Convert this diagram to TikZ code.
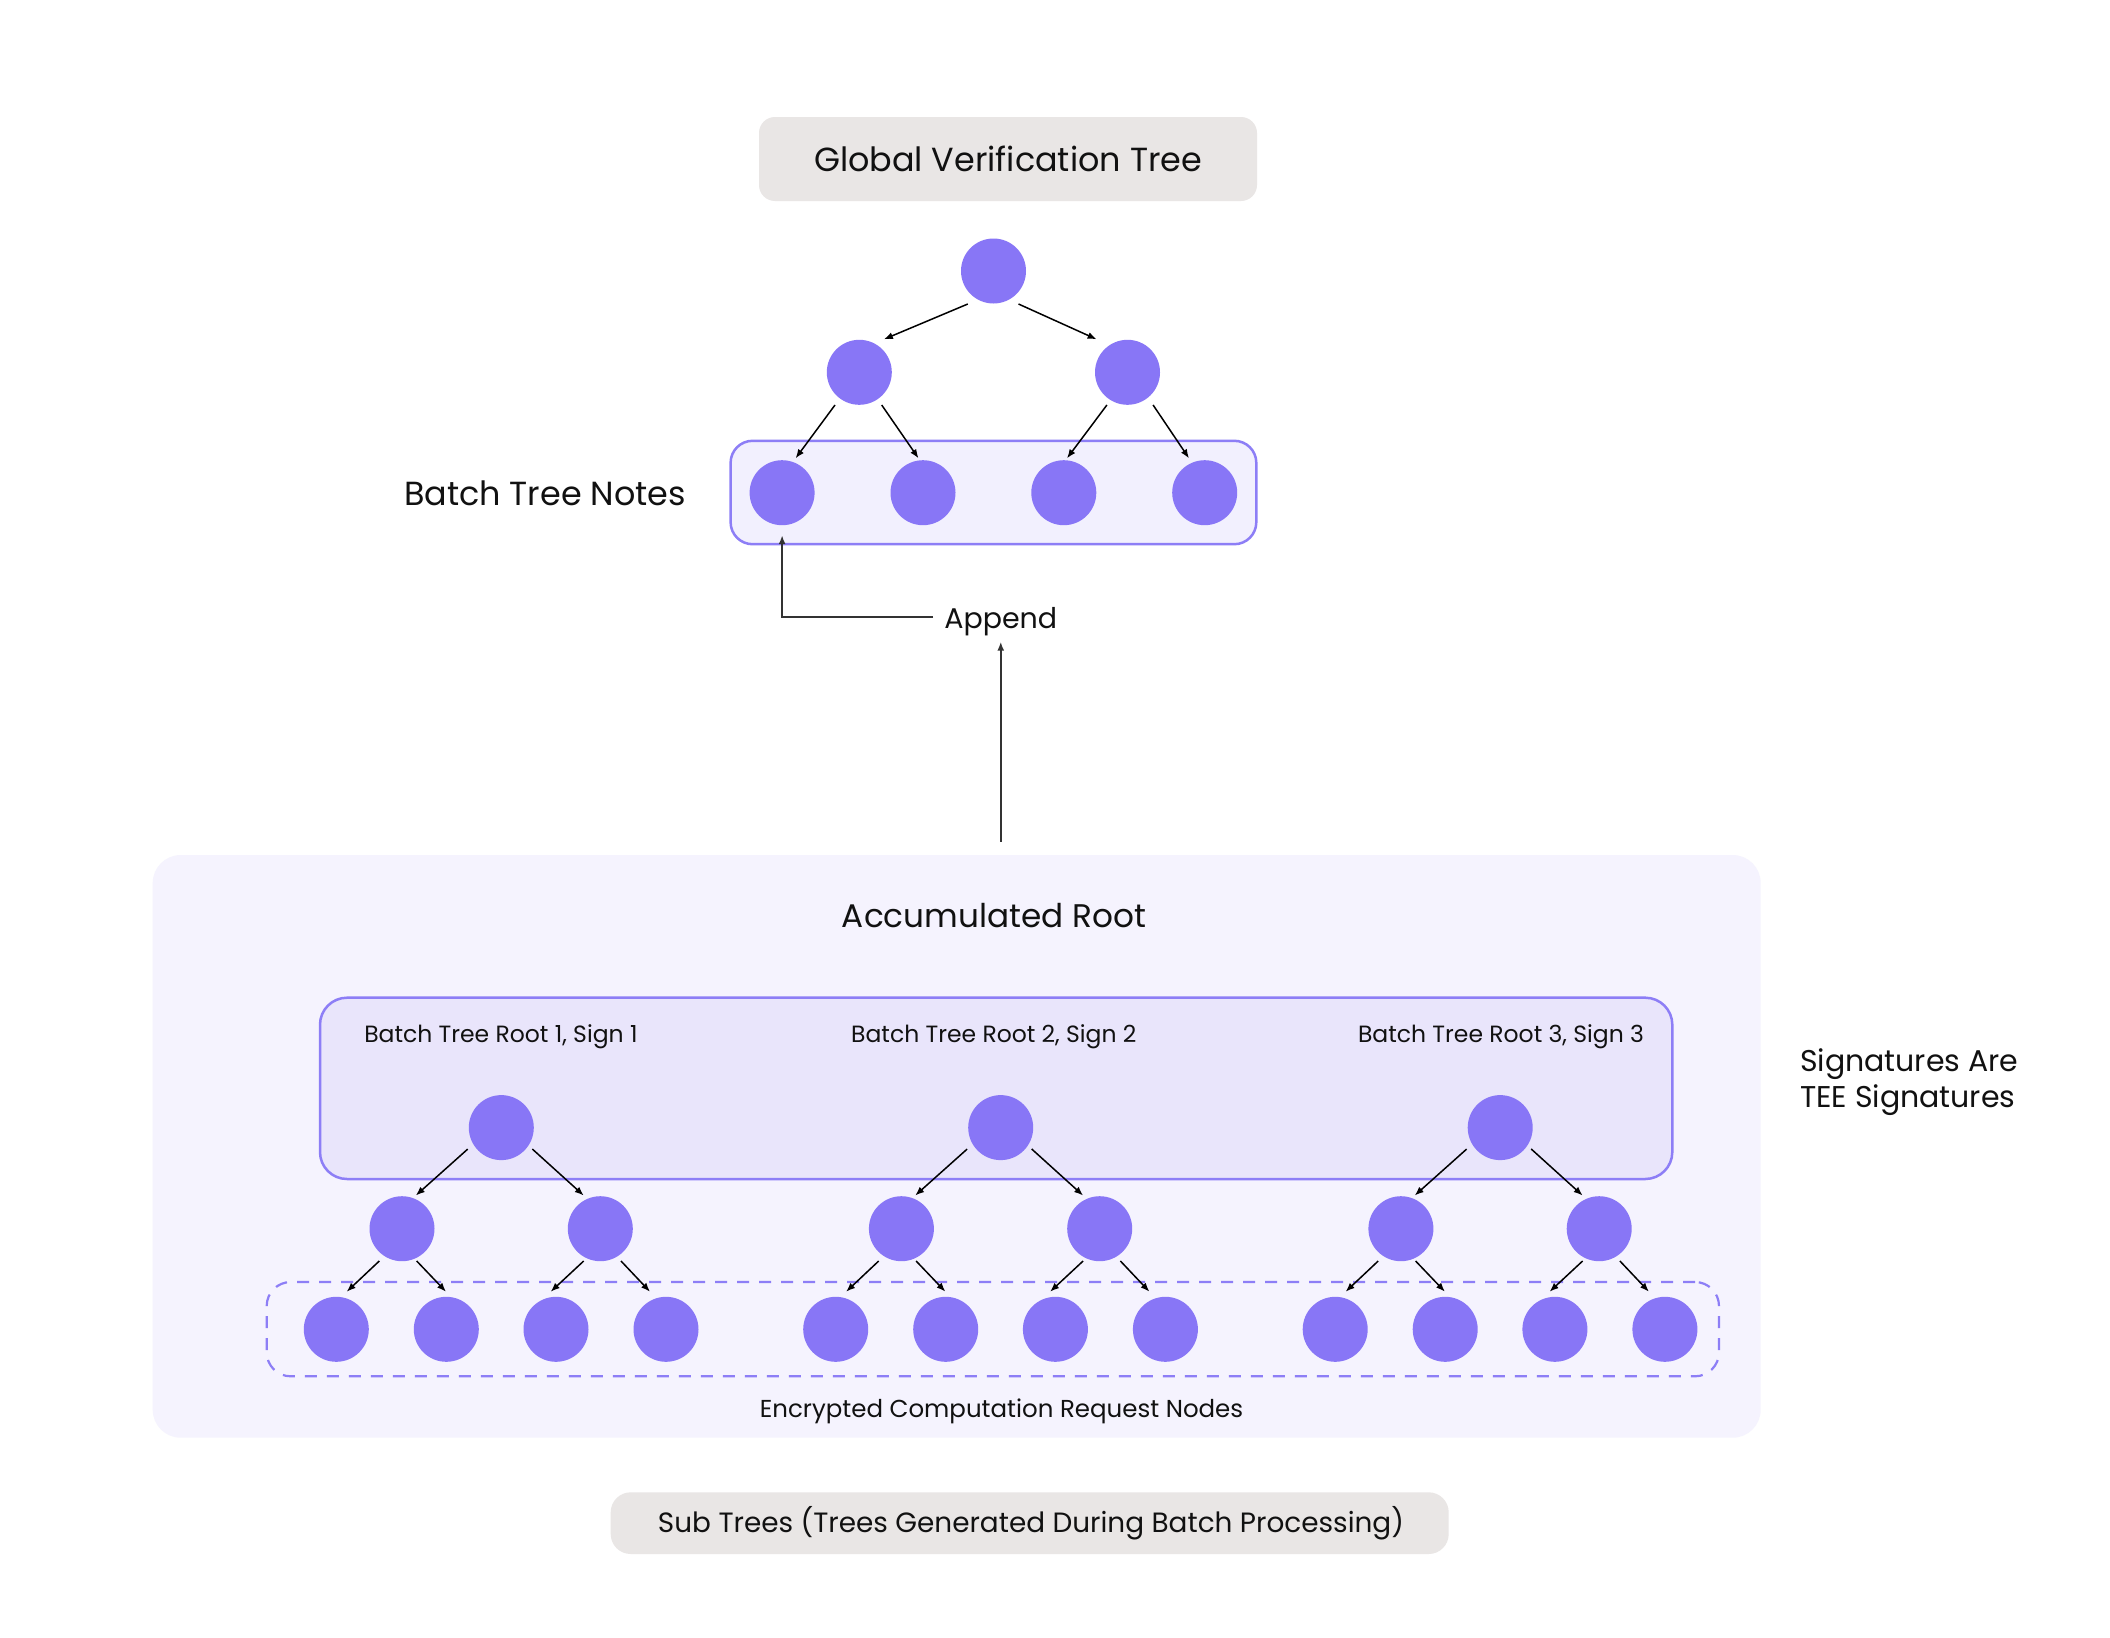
\documentclass[tikz,border=0pt]{standalone}
\usepackage{fontspec}
\setmainfont{Poppins}
\usetikzlibrary{arrows.meta,calc}
\definecolor{nodec}{HTML}{8876F6}
\definecolor{bordc}{HTML}{8D7EF6}
\definecolor{outerc}{HTML}{F5F3FE}
\definecolor{innerc}{HTML}{E9E5FB}
\definecolor{leafboxc}{HTML}{F2F0FE}
\definecolor{grayc}{HTML}{E9E6E5}
\definecolor{txtc}{HTML}{111111}
\definecolor{linec}{HTML}{333333}
\newcommand\tarr[6]{\draw[arr] ($(#1)+(#2,#3)$) -- ($(#4)+(#5,#6)$);}
\begin{document}
\begin{tikzpicture}[x=1pt,y=-1pt,
  dot/.style={circle, fill=nodec, draw=none, minimum size=65pt, inner sep=0pt, outer sep=0pt},
  arr/.style={-{Latex[length=9pt,width=7pt]}, line width=1.5pt, draw=black},
  arrtwo/.style={-{Latex[length=9pt,width=7pt]}, line width=2pt, draw=linec},
  panel/.style={rectangle, inner sep=0pt, outer sep=0pt},
  lbl/.style={inner sep=0pt, outer sep=0pt, anchor=base, text=txtc},
  fbig/.style={font=\fontsize{33.4pt}{40pt}\selectfont},
  fsmall/.style={font=\fontsize{23.5pt}{28pt}\selectfont},
]
\useasboundingbox[fill=white] (0,0) rectangle (2110,1638);

% ---------- top part ----------
\node[panel, fill=grayc, rounded corners=16pt, minimum width=498pt, minimum height=84pt] (titlebox) at (1008,159) {};
\node[lbl, fbig] (title) at (1008,171.7) {Global Verification Tree};

\node[panel, fill=leafboxc, draw=bordc, line width=2.5pt, rounded corners=22pt, minimum width=525.7pt, minimum height=103.4pt] (leafbox) at (993.45,492.5) {};

\node[dot] (t0) at (993.5,271) {};
\node[dot] (t1) at (859.3,372.3) {};
\node[dot] (t2) at (1127.5,372.3) {};
\node[dot] (b1) at (782.1,492.7) {};
\node[dot] (b2) at (923,492.7) {};
\node[dot] (b3) at (1063.8,492.7) {};
\node[dot] (b4) at (1204.7,492.7) {};

\tarr{t0}{-25.7}{33}{t1}{24.6}{-33}
\tarr{t0}{25}{33}{t2}{-30.9}{-33}
\tarr{t1}{-24.3}{32.7}{b1}{13.5}{-34.4}
\tarr{t1}{22.4}{32.7}{b2}{-4.5}{-34.4}
\tarr{t2}{-20.6}{32.7}{b3}{3.2}{-34.4}
\tarr{t2}{25.6}{32.7}{b4}{-15.7}{-34.4}

\node[lbl, fbig, anchor=base west] (notes) at (404,505) {Batch Tree Notes};

\node[lbl, font=\fontsize{28.5pt}{34pt}\selectfont, anchor=base west] (append) at (944.3,628.3) {Append};
\draw[arrtwo] ($(append.base west)+(-11.3,-11.6)$) -| ([yshift=-10pt]b1.south);

% ---------- lower part ----------
\node[panel, fill=outerc, rounded corners=28pt, minimum width=1608pt, minimum height=582.7pt] (outer) at (956.7,1146.35) {};
\draw[arrtwo] ($(append.base)+(0,213.4)$) -- ($(append.base)+(0,13.4)$);

\node[lbl, font=\fontsize{32.7pt}{39pt}\selectfont] (accroot) at (994,927) {Accumulated Root};

\node[panel, fill=innerc, draw=bordc, line width=2.5pt, rounded corners=27pt, minimum width=1352.3pt, minimum height=181.3pt] (inner) at (996.15,1088.35) {};
\node[panel, draw=bordc, line width=2.2pt, dash pattern=on 12pt off 10pt, rounded corners=24pt, minimum width=1452.3pt, minimum height=94.3pt] (dashbox) at (992.85,1329.15) {};

\node[lbl, fsmall] (lab1) at (500.9,1042) {Batch Tree Root 1, Sign 1};
\node[lbl, fsmall] (lab2) at (993.8,1042) {Batch Tree Root 2, Sign 2};
\node[lbl, fsmall] (lab3) at (1501,1042) {Batch Tree Root 3, Sign 3};

\foreach \i/\x in {1/501.3, 2/1000.7, 3/1500.2} {
  \node[dot] (r\i) at (\x,1127.6) {};
  \node[dot] (p\i) at (\x-99.3,1228.7) {};
  \node[dot] (q\i) at (\x+99,1228.7) {};
  \node[dot] (la\i) at (\x-165,1329.3) {};
  \node[dot] (lb\i) at (\x-55,1329.3) {};
  \node[dot] (lc\i) at (\x+54.7,1329.3) {};
  \node[dot] (ld\i) at (\x+164.7,1329.3) {};
  \tarr{r\i}{-33.6}{21.5}{p\i}{13.8}{-33.2}
  \tarr{r\i}{31}{21.4}{q\i}{-16.6}{-33.2}
  \tarr{p\i}{-22.7}{32.3}{la\i}{10.4}{-37.6}
  \tarr{p\i}{14.7}{32.3}{lb\i}{-0.3}{-37.6}
  \tarr{q\i}{-16.6}{32.3}{lc\i}{-5.3}{-37.6}
  \tarr{q\i}{20.7}{32.3}{ld\i}{-16}{-37.6}
}

\node[lbl, font=\fontsize{24.5pt}{29pt}\selectfont] (encr) at (1001.5,1417) {Encrypted Computation Request Nodes};

\node[lbl, font=\fontsize{30pt}{36pt}\selectfont, anchor=base west] (sig1) at (1800,1071.7) {Signatures Are};
\node[lbl, font=\fontsize{30pt}{36pt}\selectfont, anchor=base west] (sig2) at (1800,1107.7) {TEE Signatures};

\node[panel, fill=grayc, rounded corners=20pt, minimum width=838pt, minimum height=61.7pt] (subbox) at (1029.7,1523.15) {};
\node[lbl, font=\fontsize{27.9pt}{33pt}\selectfont] (subtxt) at (1031,1532) {Sub Trees (Trees Generated During Batch Processing)};
\end{tikzpicture}
\end{document}
